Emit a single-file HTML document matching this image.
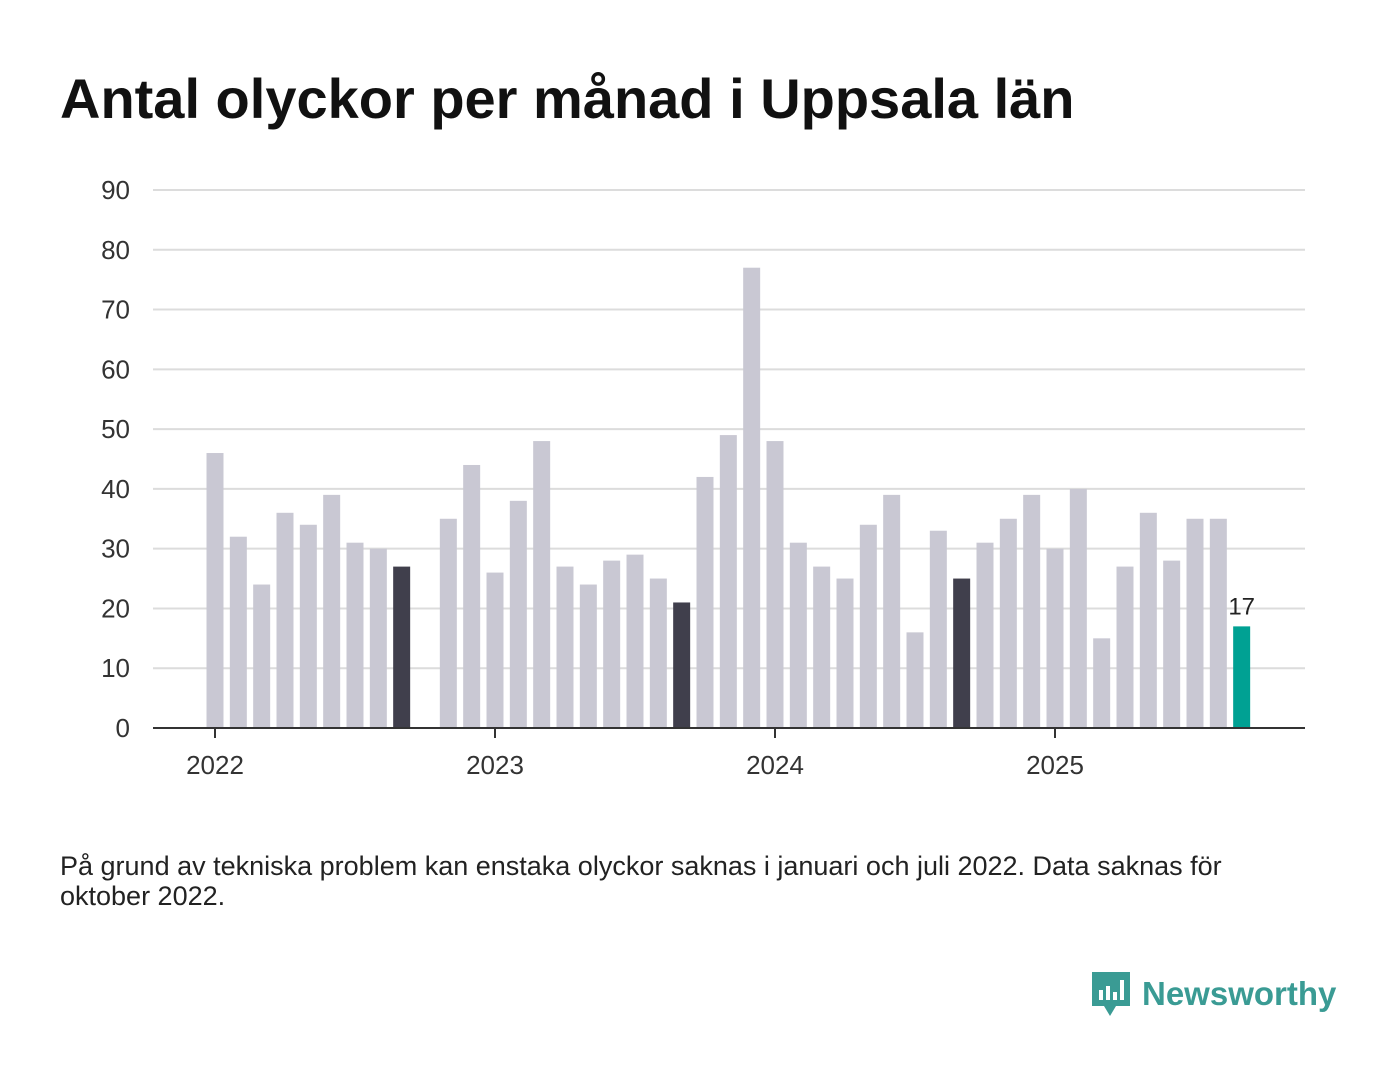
<!DOCTYPE html>
<html><head><meta charset="utf-8">
<style>
body{margin:0;width:1400px;height:1080px;background:#fff;font-family:"Liberation Sans",sans-serif;overflow:hidden;position:relative}
h1{position:absolute;left:60px;top:66px;margin:0;font-size:56px;font-weight:bold;color:#111;letter-spacing:0px}
.note{position:absolute;left:60px;top:851px;font-size:27px;color:#222;line-height:30px;width:1230px}
.logo{position:absolute;left:1090px;top:970px;display:flex;align-items:center}
.logo span{font-size:33px;font-weight:bold;color:#3a9b94;margin-left:10px}
</style></head><body>
<h1>Antal olyckor per månad i Uppsala län</h1>
<svg id="chart" width="1400" height="820" style="position:absolute;left:0;top:0"></svg>
<div class="note">På grund av tekniska problem kan enstaka olyckor saknas i januari och juli 2022. Data saknas för oktober 2022.</div>
<div class="logo">
<svg width="42" height="48" viewBox="0 0 42 48"><path d="M2 2h38v34H26l-6 10-6-10H2z" fill="#3a9b94"/><rect x="9" y="20" width="4" height="10" fill="#fff"/><rect x="16" y="16" width="4" height="14" fill="#fff"/><rect x="23" y="22" width="4" height="8" fill="#fff"/><rect x="30" y="10" width="4" height="20" fill="#fff"/></svg>
<span>Newsworthy</span></div>
<script>
const months=["2022-01","2022-02","2022-03","2022-04","2022-05","2022-06","2022-07","2022-08","2022-09","2022-10","2022-11","2022-12","2023-01","2023-02","2023-03","2023-04","2023-05","2023-06","2023-07","2023-08","2023-09","2023-10","2023-11","2023-12","2024-01","2024-02","2024-03","2024-04","2024-05","2024-06","2024-07","2024-08","2024-09","2024-10","2024-11","2024-12","2025-01","2025-02","2025-03","2025-04","2025-05","2025-06","2025-07","2025-08","2025-09"];
const values=[46,32,24,36,34,39,31,30,27,null,35,44,26,38,48,27,24,28,29,25,21,42,49,77,48,31,27,25,34,39,16,33,25,31,35,39,30,40,15,27,36,28,35,35,17];
const yTicks=[0,10,20,30,40,50,60,70,80,90];
const xTickLabels=["2022","2023","2024","2025"];
const svg=document.getElementById('chart');
const NS="http://www.w3.org/2000/svg";
const y=v=>728-v*(538/90);
const x=i=>215+i*(280/12);
function mk(t,a){const e=document.createElementNS(NS,t);for(const k in a)e.setAttribute(k,a[k]);svg.appendChild(e);return e;}
yTicks.forEach(t=>{
 if(t>0){const l=mk('line',{x1:153,x2:1305,y1:y(t),y2:y(t),stroke:'#dcdcdc','stroke-width':2});
 
 }
 const tx=mk('text',{x:130,y:y(t)+9,'text-anchor':'end','font-size':26,fill:'#333','font-family':'Liberation Sans, sans-serif'});
 tx.textContent=t;
 
 
});
const last=values.length-1;
values.forEach((v,i)=>{
 if(v==null)return;
 const m=+months[i].slice(5);
 const col=i===last?'#00a193':(m===9?'#403f4c':'#c9c8d3');
 const r=mk('rect',{x:x(i)-8.5,y:y(v),width:17,height:728-y(v),fill:col});
 
 
});
const lbl=mk('text',{x:x(last),y:y(values[last])-12,'text-anchor':'middle','font-size':24,fill:'#222','font-family':'Liberation Sans, sans-serif'});
lbl.textContent=values[last];


const ax=mk('line',{x1:153,x2:1305,y1:728,y2:728,stroke:'#333','stroke-width':2});


xTickLabels.forEach((lab,k)=>{
 const xi=x(k*12);
 const tk=mk('line',{x1:xi,x2:xi,y1:728,y2:738,stroke:'#333','stroke-width':2});
 
 
 const t=mk('text',{x:xi,y:774,'text-anchor':'middle','font-size':26,fill:'#333','font-family':'Liberation Sans, sans-serif'});
 t.textContent=lab;
 
 
});
</script>
</body></html>
